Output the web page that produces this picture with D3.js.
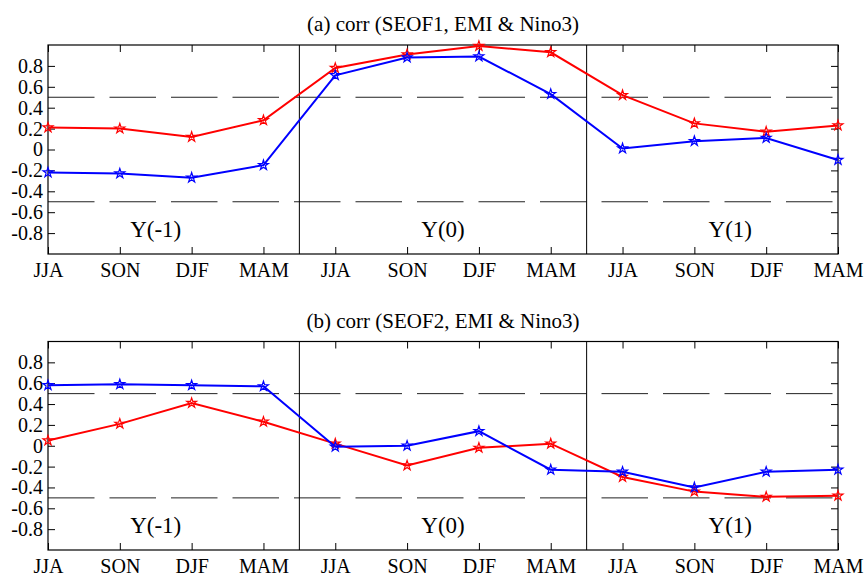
<!DOCTYPE html>
<html>
<head>
<meta charset="utf-8">
<script src="https://cdn.jsdelivr.net/npm/d3@7"></script>
<style>
body { margin: 0; background: #fff; }
</style>
</head>
<body>
<svg width="865" height="576"></svg>
<script>
// подписи по оси x (три года по четыре сезона)
var seasons = ["JJA", "SON", "DJF", "MAM"];
var categories = seasons.concat(seasons, seasons);
var yearLabels = ["Y(-1)", "Y(0)", "Y(1)"];
var yTicks = [-0.8, -0.6, -0.4, -0.2, 0, 0.2, 0.4, 0.6, 0.8];
var titles = ["(a) corr (SEOF1, EMI & Nino3)", "(b) corr (SEOF2, EMI & Nino3)"];

// (a) SEOF1
var redA = [0.21, 0.20, 0.12, 0.28, 0.78, 0.91, 0.99, 0.93, 0.52, 0.25, 0.17, 0.23];
var blueA = [-0.22, -0.23, -0.27, -0.15, 0.71, 0.88, 0.89, 0.53, 0.01, 0.08, 0.11, -0.10];
// (b) SEOF2
var redB = [0.05, 0.21, 0.41, 0.23, 0.02, -0.19, -0.02, 0.02, -0.30, -0.44, -0.49, -0.48];
var blueB = [0.58, 0.59, 0.58, 0.57, -0.01, 0.00, 0.14, -0.23, -0.25, -0.40, -0.25, -0.23];

//константы
var xLeft = 48;
var xRight = 838;
var tickLen = 7;
var serif = "'Liberation Serif', 'DejaVu Serif', serif";

var svg = d3.select("svg");

var x = d3.scaleLinear().domain([0, categories.length - 1]).range([xLeft, xRight]);

function drawPanel(top, bottom, title, red, blue) {
    var y = d3.scaleLinear().domain([-1, 1]).range([bottom, top]);
    var g = svg.append("g");

    g.append("text")
    .attr("x", (xLeft + xRight) / 2)
    .attr("y", top - 14)
    .attr("text-anchor", "middle")
    .style("font-family", serif)
    .style("font-size", "21px")
    .text(title);

    // пунктир на уровне +-0.5
    [0.5, -0.5].forEach(function(v) {
        g.append("line")
        .attr("x1", xLeft).attr("x2", xRight)
        .attr("y1", y(v)).attr("y2", y(v))
        .attr("stroke", "#222")
        .attr("stroke-width", 1)
        .attr("stroke-dasharray", "46.5,15");
    });

    // разделители годов
    [3.5, 7.5].forEach(function(v) {
        g.append("line")
        .attr("x1", x(v)).attr("x2", x(v))
        .attr("y1", top).attr("y2", bottom)
        .attr("stroke", "#000")
        .attr("stroke-width", 1);
    });

    var idx = d3.range(categories.length);

    var bottomAxis = d3.axisBottom(x).tickValues(idx)
        .tickFormat(function(i) { return categories[i]; })
        .tickSizeInner(-tickLen).tickSizeOuter(0).tickPadding(9);
    var topAxis = d3.axisTop(x).tickValues(idx).tickFormat("")
        .tickSizeInner(-tickLen).tickSizeOuter(0);
    var leftAxis = d3.axisLeft(y).tickValues(yTicks)
        .tickFormat(function(d) { return String(d); })
        .tickSizeInner(-tickLen).tickSizeOuter(0).tickPadding(5);
    var rightAxis = d3.axisRight(y).tickValues(yTicks).tickFormat("")
        .tickSizeInner(-tickLen).tickSizeOuter(0);

    g.append("g").attr("transform", "translate(0," + bottom + ")").call(bottomAxis);
    g.append("g").attr("transform", "translate(0," + top + ")").call(topAxis);
    g.append("g").attr("transform", "translate(" + xLeft + ",0)").call(leftAxis);
    g.append("g").attr("transform", "translate(" + xRight + ",0)").call(rightAxis);
    g.selectAll(".domain").remove();
    g.selectAll(".tick line").attr("stroke", "#000");
    g.selectAll(".tick text")
        .attr("fill", "#000")
        .style("font-family", serif)
        .style("font-size", "20px");

    g.append("rect")
    .attr("x", xLeft).attr("y", top)
    .attr("width", xRight - xLeft).attr("height", bottom - top)
    .attr("fill", "none")
    .attr("stroke", "#000")
    .attr("stroke-width", 1.2);

    yearLabels.forEach(function(lbl, k) {
        g.append("text")
        .attr("x", x(1.5 + 4 * k))
        .attr("y", y(-0.835))
        .attr("text-anchor", "middle")
        .style("font-family", serif)
        .style("font-size", "23px")
        .text(lbl);
    });

    var line = d3.line()
        .x(function(d, i) { return x(i); })
        .y(function(d) { return y(d); });
    var star = d3.symbol().type(d3.symbolStar).size(30);

    [[red, "#ff0000"], [blue, "#0000ff"]].forEach(function(s) {
        g.append("path")
        .attr("d", line(s[0]))
        .attr("fill", "none")
        .attr("stroke", s[1])
        .attr("stroke-width", 2);

        g.selectAll(null).data(s[0]).enter().append("path")
        .attr("d", star)
        .attr("transform", function(d, i) { return "translate(" + x(i) + "," + y(d) + ")"; })
        .attr("fill", "none")
        .attr("stroke", s[1])
        .attr("stroke-width", 1.2);
    });
}

drawPanel(45, 254, titles[0], redA, blueA);
drawPanel(341.5, 550, titles[1], redB, blueB);
</script>
</body>
</html>
